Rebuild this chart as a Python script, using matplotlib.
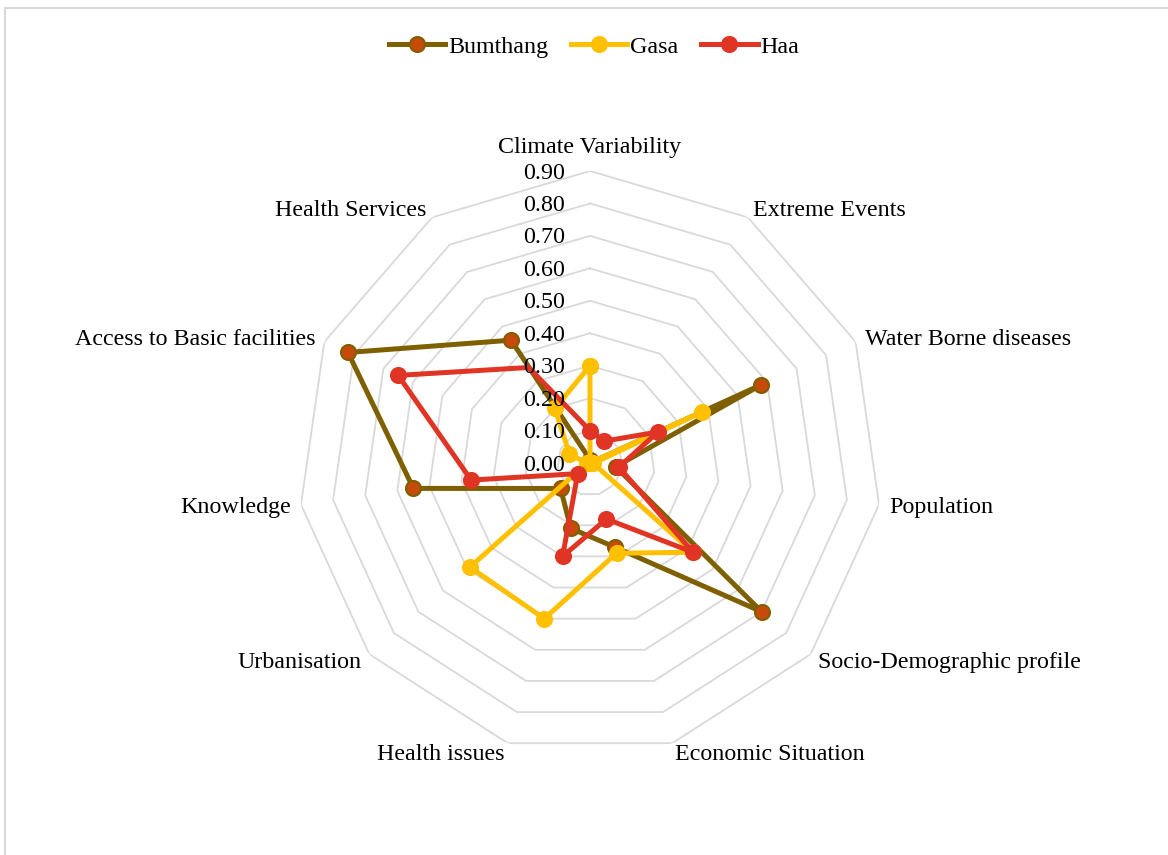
import numpy as np
import matplotlib
matplotlib.use("Agg")
import matplotlib.pyplot as plt
from matplotlib.lines import Line2D
from matplotlib.patches import Rectangle

categories = ["Climate Variability", "Extreme Events", "Water Borne diseases", "Population",
              "Socio-Demographic profile", "Economic Situation", "Health issues", "Urbanisation",
              "Knowledge", "Access to Basic facilities", "Health Services"]
bumthang = [0.01, 0.00, 0.58, 0.08, 0.70, 0.27, 0.21, 0.12, 0.55, 0.82, 0.45]
gasa = [0.30, 0.00, 0.38, 0.01, 0.42, 0.29, 0.50, 0.49, 0.01, 0.07, 0.20]
haa = [0.10, 0.08, 0.23, 0.09, 0.42, 0.18, 0.30, 0.05, 0.37, 0.65, 0.35]
series_names = ["Bumthang", "Gasa", "Haa"]
tick_levels = [0.0, 0.1, 0.2, 0.3, 0.4, 0.5, 0.6, 0.7, 0.8, 0.9]

plt.rcParams['font.family'] = ['Liberation Serif', 'DejaVu Serif']
FS = 17.3

W, H = 1168, 855
fig = plt.figure(figsize=(W / 100, H / 100), dpi=100)
cx, cy, R = 590, 463, 292
ax = fig.add_axes([(cx - R) / W, (H - cy - R) / H, 2 * R / W, 2 * R / H], projection='polar')
ax.set_theta_zero_location('N')
ax.set_theta_direction(-1)
ax.set_ylim(0, 0.9)
ax.set_xticks([])
ax.set_yticks([])
ax.grid(False)
ax.spines['polar'].set_visible(False)
ax.patch.set_visible(False)

n = len(categories)
theta = np.arange(n) * 2 * np.pi / n
theta_c = np.append(theta, theta[0])

# grid polygons
for lv in tick_levels[1:]:
    ax.plot(theta_c, [lv] * (n + 1), color='#d9d9d9', lw=1.3, zorder=1)

styles = [
    dict(color='#7f6000', mfc='#c84a0a', mec='#7f6000'),
    dict(color='#ffc000', mfc='#ffc000', mec='#ffc000'),
    dict(color='#e03424', mfc='#e03424', mec='#e03424'),
]
markevery = [None, None, list(range(n))[:-1]]
for vals, st, name, me in zip([bumthang, gasa, haa], styles, series_names, markevery):
    v = np.append(vals, vals[0])
    ax.plot(theta_c, v, color=st['color'], lw=3.6, marker='o', ms=10.8, markevery=me,
            mfc=st['mfc'], mec=st['mec'], mew=1.5, zorder=3, label=name, clip_on=False)

px2pt = 72 / 100
dn = -2 * px2pt  # small downward shift for text

# radial tick labels
for lv in tick_levels:
    ax.annotate(f"{lv:.2f}", xy=(0, lv), xytext=(-18, dn), textcoords='offset points',
                ha='right', va='center', fontsize=FS, zorder=5, annotation_clip=False)

# category labels
for t, lab in zip(theta, categories):
    s, c = np.sin(t), np.cos(t)
    if abs(s) < 0.05:
        ha = 'center'
        off = (0, 26 * px2pt + dn)
    else:
        ha = 'left' if s > 0 else 'right'
        off = (10 * s * px2pt, 10 * c * px2pt + dn)
    ax.annotate(lab, xy=(t, 0.9), xytext=off, textcoords='offset points',
                ha=ha, va='center', fontsize=FS, annotation_clip=False)

handles = [Line2D([], [], color=st['color'], lw=3.6, marker='o', ms=10.8,
                  mfc=st['mfc'], mec=st['mec'], mew=1.5) for st in styles]
fig.legend(handles, series_names, loc='center', bbox_to_anchor=(594 / W, 1 - 47 / H),
           ncol=3, frameon=False, fontsize=FS, handlelength=2.35, handletextpad=0.12,
           columnspacing=0.95)

# chart border
fig.add_artist(Rectangle((4.5 / W, -0.05), 1.2, 1 - 8.5 / H + 0.05, transform=fig.transFigure,
                         fill=False, edgecolor='#d9d9d9', lw=1.5))

fig.savefig("out.png", dpi=100)
